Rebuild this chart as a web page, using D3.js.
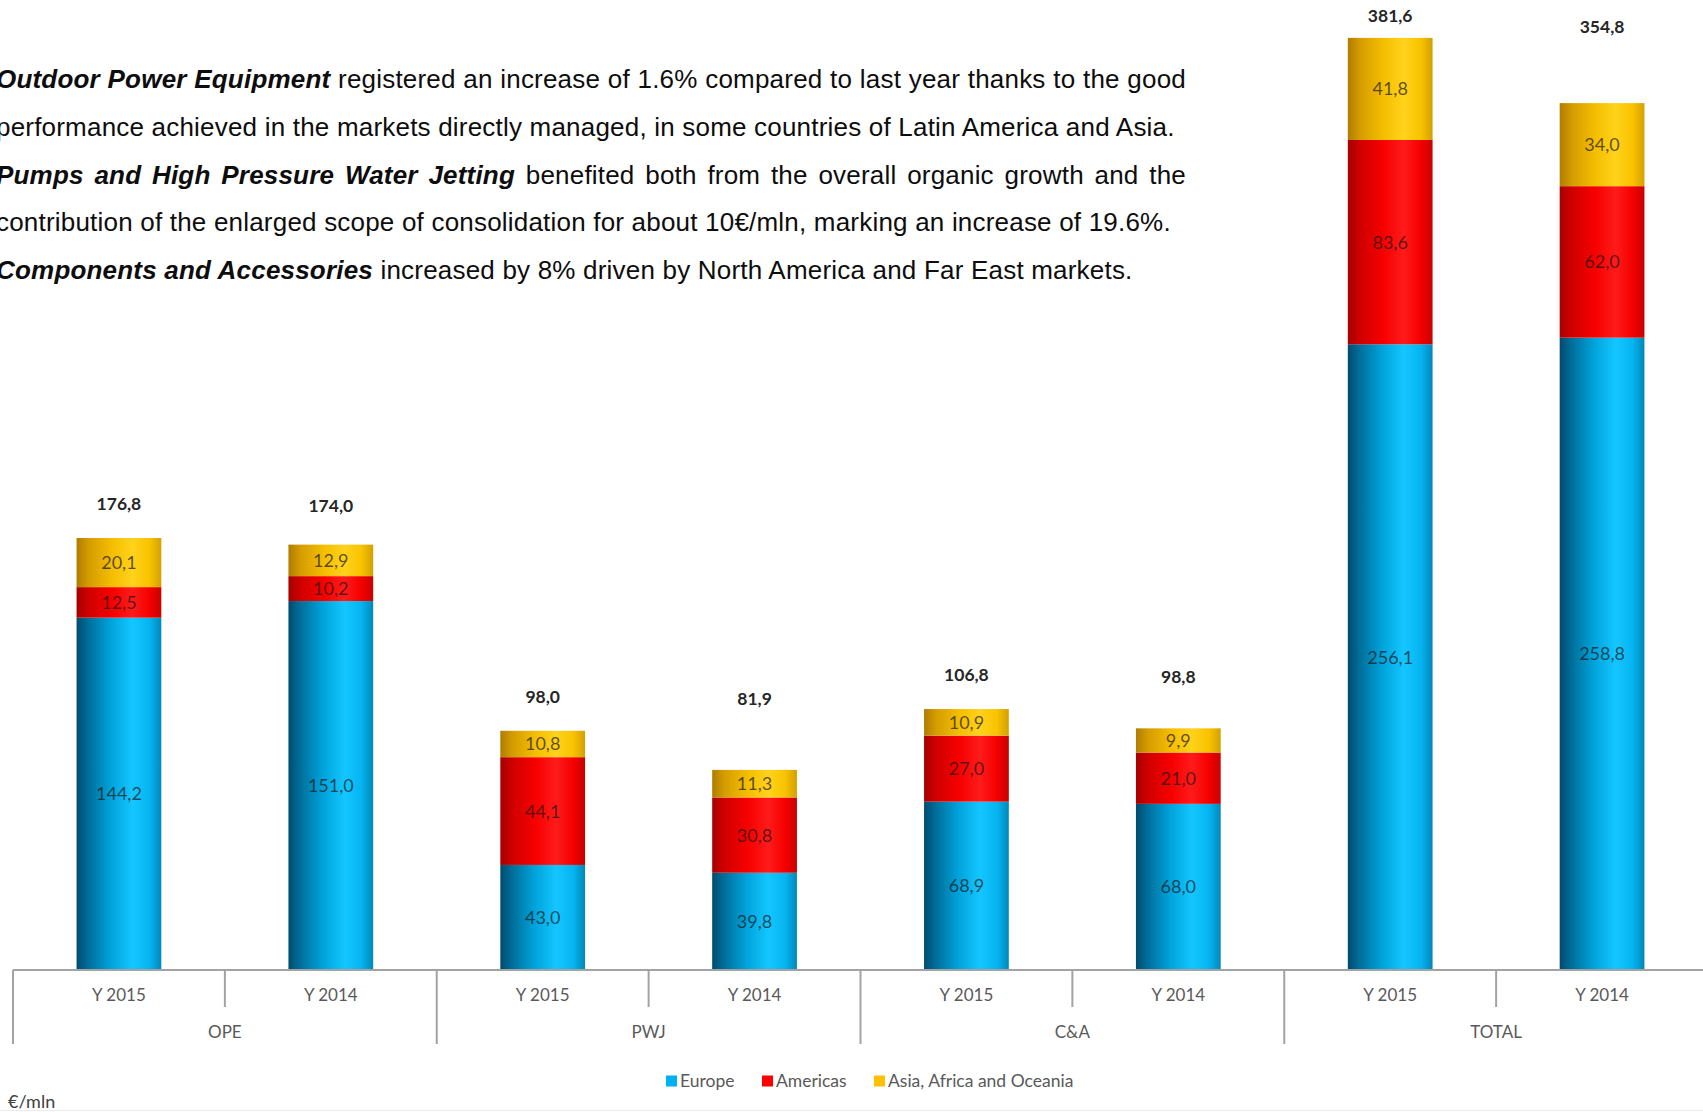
<!DOCTYPE html>
<html>
<head>
<meta charset="utf-8">
<script src="https://cdn.jsdelivr.net/npm/d3@7"></script>
<style>
  html, body { margin: 0; padding: 0; background: #fff; overflow: hidden; }
  svg { display: block; }
</style>
</head>
<body>
<svg id="chart" width="1703" height="1112"></svg>
<script>
// ---- data (€/mln) ----
const groups = ["OPE", "PWJ", "C&A", "TOTAL"];
const years = ["Y 2015", "Y 2014"];
const regions = ["Europe", "Americas", "Asia, Africa and Oceania"];
const europe   = [144.2, 151.0, 43.0, 39.8, 68.9, 68.0, 256.1, 258.8];
const americas = [12.5, 10.2, 44.1, 30.8, 27.0, 21.0, 83.6, 62.0];
const asia     = [20.1, 12.9, 10.8, 11.3, 10.9, 9.9, 41.8, 34.0];
const totals   = [176.8, 174.0, 98.0, 81.9, 106.8, 98.8, 381.6, 354.8];
const unitLabel = "€/mln";

// commentary lines: [text, emphasised]
const paragraph = [
  { justify: true,  runs: [["Outdoor Power Equipment", true], [" registered an increase of 1.6% compared to last year thanks to the good", false]] },
  { justify: false, runs: [["performance achieved in the markets directly managed, in some countries of Latin America and Asia.", false]] },
  { justify: true,  runs: [["Pumps and High Pressure Water Jetting", true], [" benefited both from the overall organic growth and the", false]] },
  { justify: false, runs: [["contribution of the enlarged scope of consolidation for about 10€/mln, marking an increase of 19.6%.", false]] },
  { justify: false, runs: [["Components and Accessories", true], [" increased by 8% driven by North America and Far East markets.", false]] }
];

// ---- layout ----
const W = 1703, H = 1112;
const baseY = 970;
const svg = d3.select("#chart");

const rows = europe.map((e, i) => ({
  idx: i,
  group: groups[Math.floor(i / 2)],
  year: years[i % 2],
  "Europe": e,
  "Americas": americas[i],
  "Asia, Africa and Oceania": asia[i],
  total: totals[i]
}));

const x = d3.scaleBand()
  .domain(rows.map(d => d.idx))
  .range([13, 1708])
  .paddingInner(0.6)
  .paddingOuter(0.3);

const xGroup = d3.scaleBand()
  .domain(groups)
  .range([13, 13 + x.step() * 8]);

const y = d3.scaleLinear().domain([0, 397]).range([baseY, 0]);

const fills = { "Europe": "#00b0f0", "Americas": "#ff0000", "Asia, Africa and Oceania": "#ffc000" };
const shades = {
  "Europe": [[0, "#004b6e"], [0.12, "#006a94"], [0.4, "#00a2da"], [0.66, "#14c6ff"], [0.86, "#06b5f0"], [1, "#0088ba"]],
  "Americas": [[0, "#a60000"], [0.14, "#cf0000"], [0.42, "#f70000"], [0.66, "#ff1b1b"], [0.86, "#f50000"], [1, "#c90000"]],
  "Asia, Africa and Oceania": [[0, "#b07c00"], [0.14, "#d49c00"], [0.42, "#f5be00"], [0.66, "#ffd21c"], [0.86, "#f9c300"], [1, "#d3a000"]]
};

const defs = svg.append("defs");
regions.forEach((r, k) => {
  const g = defs.append("linearGradient")
    .attr("id", "cyl" + k)
    .attr("x1", 0).attr("x2", 1).attr("y1", 0).attr("y2", 0);
  shades[r].forEach(([o, c]) => g.append("stop").attr("offset", o).attr("stop-color", c));
});

// ---- commentary text ----
const textX = -4, textRight = 1186, firstBase = 88, lineGap = 47.8;
const bodyFont = "'Liberation Sans', Arial, sans-serif";
const bodySize = 26, bodySpacing = 0.2;
const para = svg.append("g").attr("class", "commentary")
  .attr("font-family", bodyFont).attr("font-size", bodySize)
  .attr("letter-spacing", bodySpacing).attr("fill", "#0d0d0d");

const probe = svg.append("text").attr("font-family", bodyFont).attr("font-size", bodySize)
  .attr("letter-spacing", bodySpacing).attr("visibility", "hidden");
function measure(str, strong) {
  probe.attr("font-weight", strong ? "bold" : "normal")
       .attr("font-style", strong ? "italic" : "normal")
       .text(str);
  return probe.node().getComputedTextLength();
}

paragraph.forEach((line, li) => {
  const t = para.append("text").attr("x", textX).attr("y", firstBase + li * lineGap);
  if (!line.justify) {
    line.runs.forEach(([s, strong]) => {
      t.append("tspan")
        .attr("font-weight", strong ? "bold" : null)
        .attr("font-style", strong ? "italic" : null)
        .text(s);
    });
    return;
  }
  // justified line: spread the words evenly to the right margin
  const words = [];
  line.runs.forEach(([s, strong]) => {
    s.split(" ").filter(w => w.length).forEach(w => words.push({ w, strong, len: measure(w, strong) }));
  });
  const used = d3.sum(words, d => d.len);
  const gap = (textRight - textX - used) / (words.length - 1);
  let cx = textX;
  words.forEach(d => {
    t.append("tspan")
      .attr("x", cx)
      .attr("font-weight", d.strong ? "bold" : null)
      .attr("font-style", d.strong ? "italic" : null)
      .text(d.w);
    cx += d.len + gap;
  });
});
probe.remove();

// ---- stacked bars ----
const series = d3.stack().keys(regions)(rows);
const chartFont = "Lato, 'Open Sans', sans-serif";

const layers = svg.append("g").attr("class", "bars")
  .selectAll("g").data(series).join("g")
  .attr("fill", (s, k) => `url(#cyl${k})`);

layers.selectAll("rect").data(s => s).join("rect")
  .attr("x", d => x(d.data.idx))
  .attr("width", x.bandwidth())
  .attr("y", d => y(d[1]))
  .attr("height", d => y(d[0]) - y(d[1]));

// values inside the segments
const segLabels = svg.append("g").attr("class", "segment-labels")
  .attr("font-family", chartFont).attr("font-size", 18)
  .attr("text-anchor", "middle").attr("fill", "#141414").attr("fill-opacity", 0.7);
series.forEach(s => {
  s.forEach(d => {
    segLabels.append("text")
      .attr("x", x(d.data.idx) + x.bandwidth() / 2)
      .attr("y", (y(d[0]) + y(d[1])) / 2)
      .attr("dy", "0.36em")
      .text(d3.format(".1f")(d[1] - d[0]).replace(".", ","));
  });
});

// totals above each pair, kept inside the top margin
const totalLabels = svg.append("g").attr("class", "total-labels")
  .attr("font-family", chartFont).attr("font-size", 17.5).attr("font-weight", "bold")
  .attr("text-anchor", "middle").attr("fill", "#262626");
rows.forEach(d => {
  const pairMax = d3.max(rows.filter(r => r.group === d.group), r => r.total);
  const first = d.idx % 2 === 0;
  const ly = first ? Math.max(16, y(pairMax) - 34) : Math.max(27, y(pairMax) - 32);
  totalLabels.append("text")
    .attr("x", x(d.idx) + x.bandwidth() / 2)
    .attr("y", ly)
    .attr("dy", "0.36em")
    .text(d3.format(".1f")(d.total).replace(".", ","));
});

// ---- two-level category axis ----
const axis = svg.append("g").attr("class", "axis")
  .attr("stroke", "#a3a3a3").attr("stroke-width", 2);
axis.append("line").attr("x1", 13).attr("x2", W).attr("y1", baseY).attr("y2", baseY);
groups.forEach(g => {
  const gx = xGroup(g);
  axis.append("line").attr("x1", gx).attr("x2", gx).attr("y1", baseY).attr("y2", 1044);
  const mid = gx + xGroup.bandwidth() / 2;
  axis.append("line").attr("x1", mid).attr("x2", mid).attr("y1", baseY).attr("y2", 1007);
});

const axisText = svg.append("g").attr("class", "axis-labels")
  .attr("font-family", chartFont).attr("fill", "#595959").attr("text-anchor", "middle")
  .attr("font-size", 17);
rows.forEach(d => {
  axisText.append("text")
    .attr("x", x(d.idx) + x.bandwidth() / 2)
    .attr("y", 995).attr("dy", "0.36em")
    .text(d.year);
});
groups.forEach(g => {
  axisText.append("text")
    .attr("x", xGroup(g) + xGroup.bandwidth() / 2)
    .attr("y", 1032).attr("dy", "0.36em")
    .text(g);
});

// ---- legend ----
const legend = svg.append("g").attr("class", "legend")
  .attr("font-family", chartFont).attr("font-size", 17.5).attr("fill", "#595959");
const legendX = [666, 762, 874];
regions.forEach((r, k) => {
  const item = legend.append("g").attr("transform", `translate(${legendX[k]},1081)`);
  item.append("rect").attr("x", 0).attr("y", -5.5).attr("width", 11).attr("height", 11).attr("fill", fills[r]);
  item.append("text").attr("x", 14).attr("dy", "0.36em").text(r);
});

// unit note and bottom rule
svg.append("text")
  .attr("x", 8).attr("y", 1102).attr("dy", "0.36em")
  .attr("font-family", chartFont).attr("font-size", 18).attr("fill", "#404040")
  .text(unitLabel);
svg.append("line")
  .attr("x1", 0).attr("x2", W).attr("y1", 1110.5).attr("y2", 1110.5)
  .attr("stroke", "#ececec").attr("stroke-width", 1);
</script>
</body>
</html>
